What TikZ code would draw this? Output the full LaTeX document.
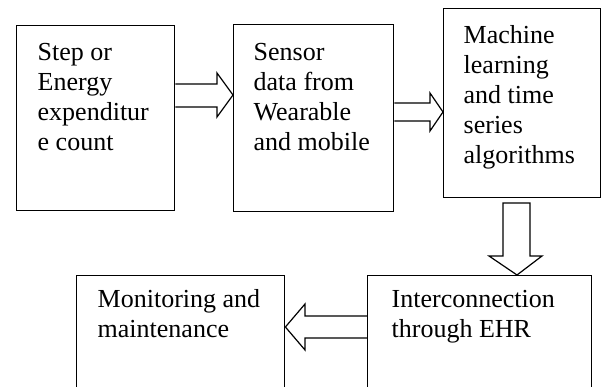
\documentclass[tikz,border=0pt]{standalone}
\usepackage{fontspec}
\setmainfont{Liberation Serif}
\usetikzlibrary{calc}
\tikzset{
  stage/.style={draw, line width=1.4pt, anchor=north west, inner xsep=21pt,
    inner ysep=14pt, font=\fontsize{26}{30}\selectfont},
  blk/.style={draw, line width=1.2pt, line join=miter},
}
% top-aligned text block of fixed height and width
\newcommand{\stagetext}[3]{\parbox[t][#1][t]{#2}{\strut #3}}
\begin{document}
\begin{tikzpicture}[x=1pt, y=-1pt]
  \useasboundingbox (0,0) rectangle (603,387);
  \clip (0,0) rectangle (603,387);

  % process stages
  \node[stage] (b1) at (16,25) {\stagetext{157pt}{116pt}{Step or\\Energy\\expenditur\\e count}};
  \node[stage, inner xsep=20pt, inner ysep=15pt] (b2) at (233,24)
    {\stagetext{157pt}{120pt}{Sensor\\data from\\Wearable\\and mobile}};
  \node[stage, inner xsep=20pt] (b3) at (443,8)
    {\stagetext{161pt}{117pt}{Machine\\learning\\and time\\series\\algorithms}};
  \node[stage, inner ysep=11pt] (b4) at (76,275)
    {\stagetext{103pt}{166pt}{Monitoring and\\maintenance}};
  \node[stage, inner xsep=24pt, inner ysep=11pt] (b5) at (367,275)
    {\stagetext{103pt}{176pt}{Interconnection\\through EHR}};

  % hollow block arrows between stages
  \draw[blk] (b1.east |- 0,84) -- (217,84) -- (217,73) -- (b2.west |- 0,95)
    -- (217,117) -- (217,107) -- (b1.east |- 0,107);
  \draw[blk] (b2.east |- 0,103) -- (430,103) -- (430,93) -- (b3.west |- 0,112)
    -- (430,131) -- (430,121) -- (b2.east |- 0,121);
  \draw[blk] (503,203) -- (530,203) -- (530,256) -- (542,256) -- (517,0 |- b5.north)
    -- (489,256) -- (503,256) -- cycle;
  \draw[blk] (b5.west |- 0,316) -- (305,316) -- (305,304) -- (b4.east |- 0,327)
    -- (305,350) -- (305,338) -- (b5.west |- 0,338);
\end{tikzpicture}
\end{document}
